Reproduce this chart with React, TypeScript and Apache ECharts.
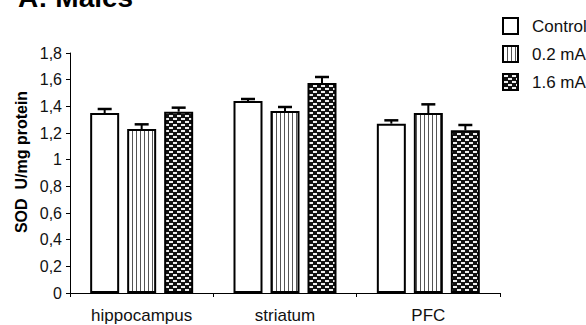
import React, { useEffect, useRef } from "react";
import * as echarts from "echarts";

const categories = ["hippocampus", "striatum", "PFC"];
const seriesNames = ["Control", "0.2 mA", "1.6 mA"];
const controlValues = [1.35, 1.44, 1.27];
const lowValues = [1.23, 1.365, 1.35];
const highValues = [1.36, 1.575, 1.22];
const controlErr = [0.03, 0.015, 0.025];
const lowErr = [0.035, 0.03, 0.065];
const highErr = [0.03, 0.045, 0.04];
const yTickLabels = ["0", "0,2", "0,4", "0,6", "0,8", "1", "1,2", "1,4", "1,6", "1,8"];
const titleText = "A: Males";
const yAxisTitle = "SOD  U/mg protein";

function stripePattern(): string {
  const c = document.createElement("canvas");
  c.width = 4;
  c.height = 4;
  const g = c.getContext("2d")!;
  g.fillStyle = "#ffffff";
  g.fillRect(0, 0, 4, 4);
  g.fillStyle = "#555555";
  g.fillRect(0, 0, 1, 4);
  return c.toDataURL();
}

function checkPattern(): string {
  const c = document.createElement("canvas");
  c.width = 8;
  c.height = 6;
  const g = c.getContext("2d")!;
  g.fillStyle = "#111111";
  g.fillRect(0, 0, 8, 6);
  g.fillStyle = "#eeeeee";
  g.fillRect(1, 1, 4, 2);
  g.fillRect(5, 4, 3, 2);
  g.fillRect(0, 4, 1, 2);
  return c.toDataURL();
}

export default function App() {
  const ref = useRef<HTMLDivElement>(null);
  useEffect(() => {
    document.body.style.margin = "0";
    const chart = echarts.init(ref.current!, null, { renderer: "svg" });
    const font = "Liberation Sans, Arial, sans-serif";
    const fills: any[] = [
      "#ffffff",
      { image: stripePattern(), repeat: "repeat" },
      { image: checkPattern(), repeat: "repeat" },
    ];
    const values = [controlValues, lowValues, highValues];
    const errs = [controlErr, lowErr, highErr];
    const barW = 29;
    const gap = 8;
    const bars = seriesNames.map((name, i) => ({
      type: "bar",
      name,
      data: values[i],
      barWidth: barW,
      barGap: (gap / barW) * 100 + "%",
      itemStyle: { color: fills[i], borderColor: "#000", borderWidth: 2 },
    }));
    const errSeries = seriesNames.map((name, i) => ({
      type: "custom",
      name: name + " err",
      data: values[i].map((v, k) => [k, v, v + errs[i][k]]),
      z: 5,
      renderItem: (params: any, api: any) => {
        const top = api.coord([api.value(0), api.value(2)]);
        const base = api.coord([api.value(0), api.value(1)]);
        const x = top[0] + (i - 1) * (barW + gap);
        const hw = 7;
        return {
          type: "group",
          children: [
            { type: "line", shape: { x1: x, y1: base[1], x2: x, y2: top[1] }, style: { stroke: "#000", lineWidth: 2 } },
            { type: "line", shape: { x1: x - hw, y1: top[1], x2: x + hw, y2: top[1] }, style: { stroke: "#000", lineWidth: 2.5 } },
          ],
        };
      },
    }));
    chart.setOption({
      animation: false,
      backgroundColor: "#ffffff",
      grid: { left: 70, right: 86, top: 53, bottom: 32 },
      legend: {
        data: seriesNames,
        orient: "vertical",
        left: 497,
        top: 12,
        itemWidth: 15,
        itemHeight: 16,
        itemGap: 10,
        icon: "rect",
        textStyle: { fontFamily: font, fontSize: 17, color: "#111", padding: [0, 0, 0, 9] },
      },
      xAxis: {
        type: "category",
        data: categories,
        axisLine: { lineStyle: { color: "#000", width: 1 } },
        axisTick: { show: true, length: 4, lineStyle: { color: "#000" } },
        axisLabel: { fontFamily: font, fontSize: 17, color: "#111", margin: 14 },
      },
      yAxis: {
        type: "value",
        min: 0,
        max: 1.8,
        interval: 0.2,
        splitLine: { show: false },
        axisLine: { show: true, lineStyle: { color: "#000", width: 1 } },
        axisTick: { show: true, length: 4, lineStyle: { color: "#000" } },
        axisLabel: {
          fontFamily: font,
          fontSize: 16,
          color: "#111",
          margin: 8,
          formatter: (v: number) => yTickLabels[Math.round(v / 0.2)],
        },
      },
      graphic: [
        {
          type: "text",
          x: 18,
          y: 11,
          style: {
            text: titleText,
            font: "bold 28px " + font,
            fill: "#000",
            verticalAlign: "bottom",
          },
        },
        {
          type: "text",
          x: 21,
          y: 162,
          rotation: Math.PI / 2,
          style: {
            text: yAxisTitle,
            font: "bold 16px " + font,
            fill: "#000",
            align: "center",
            verticalAlign: "middle",
          },
        },
      ],
      series: [...bars, ...errSeries],
    });
    return () => chart.dispose();
  }, []);
  return <div ref={ref} style={{ width: 586, height: 325 }} />;
}
